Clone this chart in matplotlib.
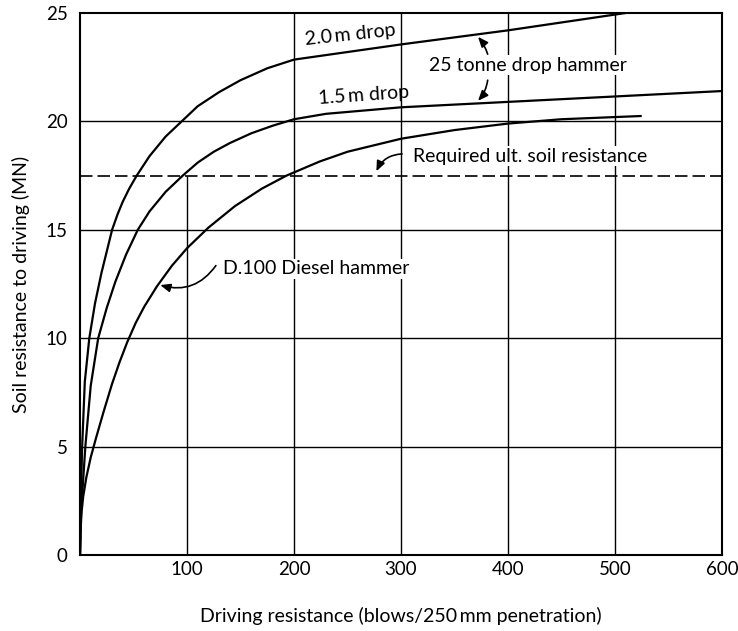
import matplotlib
matplotlib.use("Agg")
import matplotlib.pyplot as plt

plt.rcParams['font.family'] = ['Lato', 'DejaVu Sans']

# ---- data ----
drop20_x = [0, 0.5, 2, 4.5, 8.7, 14, 20, 30, 35, 40, 46, 53, 65, 80, 95, 110, 130, 150, 175, 200, 300, 400, 510]
drop20_y = [0, 2.0, 5.0, 8.0, 10.0, 11.6, 13.0, 15.0, 15.7, 16.3, 16.9, 17.5, 18.4, 19.3, 20.0, 20.7, 21.35, 21.9, 22.45, 22.85, 23.55, 24.2, 25.0]

drop15_x = [0, 1, 5, 10, 17, 25, 33, 43, 54, 65, 80, 96, 110, 125, 140, 160, 180, 200, 230, 300, 400, 500, 600]
drop15_y = [0, 2.0, 5.0, 7.8, 10.0, 11.4, 12.6, 13.85, 15.0, 15.85, 16.75, 17.5, 18.1, 18.6, 19.0, 19.45, 19.8, 20.1, 20.35, 20.65, 20.9, 21.15, 21.4]

diesel_x = [0, 0.5, 1.5, 3, 6, 10, 15, 22, 30, 37, 44, 52, 60, 72, 86, 100, 120, 145, 170, 193, 224, 250, 300, 350, 400, 450, 500, 525]
diesel_y = [0, 1.1, 2.0, 2.7, 3.6, 4.5, 5.4, 6.6, 7.9, 8.9, 9.8, 10.7, 11.45, 12.4, 13.35, 14.15, 15.1, 16.1, 16.9, 17.5, 18.15, 18.6, 19.2, 19.6, 19.9, 20.1, 20.2, 20.25]

required_resistance = 17.5

x_ticks = [100, 200, 300, 400, 500, 600]
y_ticks = [0, 5, 10, 15, 20, 25]

# ---- figure ----
fig = plt.figure(figsize=(7.38, 6.31), dpi=100)
ax = fig.add_axes([80/738, 76/631, 642/738, 542/631])
ax.set_xlim(0, 600)
ax.set_ylim(0, 25)

grid_kw = dict(color='black', lw=1.0, zorder=1)
for yv in y_ticks[1:-1]:
    ax.axhline(yv, **grid_kw)
for xv in x_ticks[1:-1]:
    ax.axvline(xv, **grid_kw)
# the 100 line stops at the required resistance level
ax.vlines(x_ticks[0], 0, required_resistance, **grid_kw)

ax.axhline(required_resistance, color='black', lw=1.2, dashes=(7.5, 3), zorder=2)

curve_kw = dict(color='black', lw=1.6, zorder=3, solid_capstyle='butt', solid_joinstyle='round')
ax.plot(drop20_x, drop20_y, **curve_kw)
ax.plot(drop15_x, drop15_y, **curve_kw)
ax.plot(diesel_x, diesel_y, **curve_kw)

for s in ax.spines.values():
    s.set_linewidth(1.5)

ax.set_xticks(x_ticks)
ax.set_yticks(y_ticks)
ax.tick_params(length=0, labelsize=13.5)
ax.tick_params(axis='x', pad=4)
ax.tick_params(axis='y', pad=9)

ax.set_xlabel('Driving resistance (blows/250\u2009mm penetration)', fontsize=14, labelpad=21)
ax.set_ylabel('Soil resistance to driving (MN)', fontsize=14, labelpad=11)

tfs = 14
ax.text(253, 24.0, '2.0\u2009m drop', fontsize=tfs, rotation=6, ha='center', va='center', zorder=5)
ax.text(265, 21.2, '1.5\u2009m drop', fontsize=tfs, rotation=4, ha='center', va='center', zorder=5)
ax.text(419, 22.6, '25 tonne drop hammer', fontsize=tfs, ha='center', va='center', zorder=5,
        bbox=dict(facecolor='white', edgecolor='none', pad=1))
ax.text(421, 18.4, 'Required ult. soil resistance', fontsize=tfs, ha='center', va='center', zorder=5,
        bbox=dict(facecolor='white', edgecolor='none', pad=1))
ax.text(221, 13.2, 'D.100 Diesel hammer', fontsize=tfs, ha='center', va='center', zorder=5,
        bbox=dict(facecolor='white', edgecolor='none', pad=1))

arrow_kw = dict(arrowstyle='-|>,head_length=0.6,head_width=0.25', color='black', lw=1.2,
                shrinkA=0, shrinkB=0)
ax.annotate('', xy=(75, 12.45), xytext=(127, 13.35),
            arrowprops=dict(connectionstyle='arc3,rad=-0.35', **arrow_kw), zorder=6)
ax.annotate('', xy=(277, 17.7), xytext=(301, 18.5),
            arrowprops=dict(connectionstyle='arc3,rad=0.3', **arrow_kw), zorder=6)
ax.annotate('', xy=(372, 23.9), xytext=(381, 23.1),
            arrowprops=dict(connectionstyle='arc3,rad=0.1', **arrow_kw), zorder=6)
ax.annotate('', xy=(372, 20.95), xytext=(381, 21.9),
            arrowprops=dict(connectionstyle='arc3,rad=-0.15', **arrow_kw), zorder=6)

fig.savefig('out.png', dpi=100)
